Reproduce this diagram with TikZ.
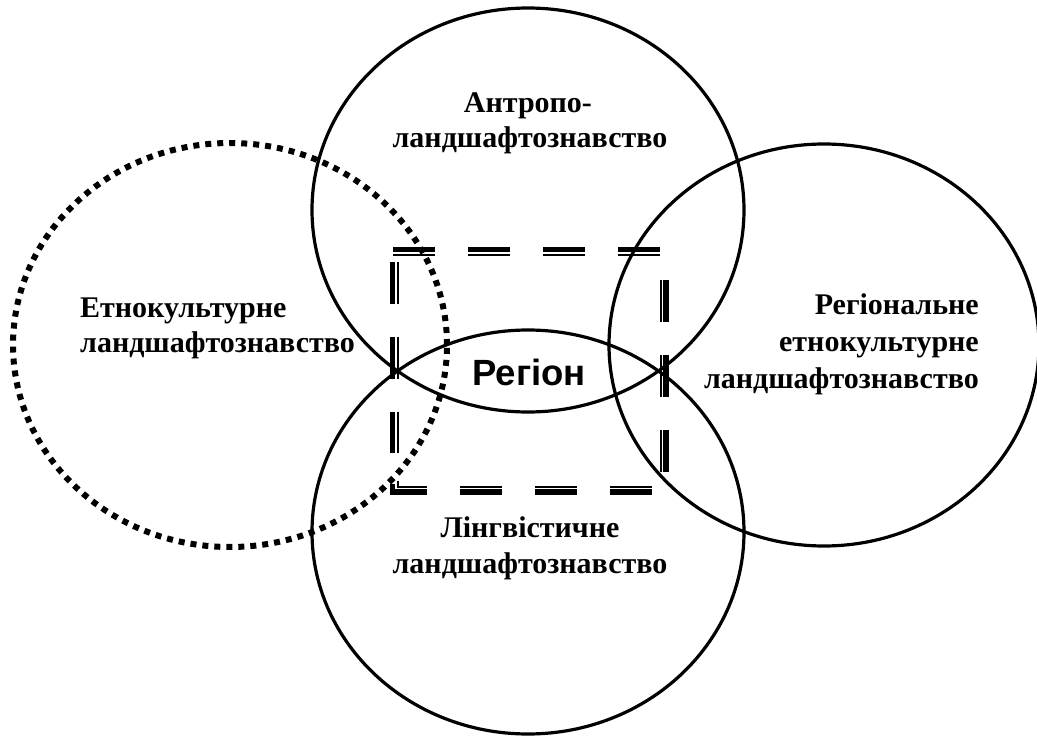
\documentclass[tikz,border=0pt]{standalone}
\usepackage{fontspec}
\setmainfont{Liberation Serif}
\newfontfamily\regfont{Liberation Sans}
\begin{document}
\begin{tikzpicture}[x=1pt,y=-1pt,
  ring/.style={line width=3.2pt},
  dotring/.style={line width=6pt, dash pattern=on 6pt off 6pt},
  lbl/.style={font=\fontsize{30}{34}\selectfont\bfseries, inner sep=0pt},
  thickdash/.style={line width=5.5pt, dash pattern=on 42pt off 33pt},
  thindash/.style={line width=2pt, dash pattern=on 42pt off 33pt}]
\useasboundingbox (0,0) rectangle (1037,736);
% circles
\draw[ring] (528,210) ellipse [x radius=216pt, y radius=202pt];
\draw[ring] (528,532) ellipse [x radius=216pt, y radius=202pt];
\draw[ring] (824,345) ellipse [x radius=215pt, y radius=201pt];
\draw[dotring] (230,345) ellipse [x radius=217pt, y radius=202pt];
% double dashed frame
\coordinate (tA) at (393,249.5); \coordinate (tB) at (661,249.5);
\coordinate (ta) at (393,254.5); \coordinate (tb) at (661,254.5);
\draw[thickdash] (tA) -- (tB);
\draw[thindash] (ta) -- (tb);
\coordinate (lA) at (392.5,262); \coordinate (lB) at (392.5,453);
\coordinate (la) at (397.5,262); \coordinate (lb) at (397.5,453);
\draw[thickdash] (lA) -- (lB);
\draw[thindash] (la) -- (lb);
\coordinate (rA) at (666,280); \coordinate (rB) at (666,473);
\coordinate (ra) at (661,280); \coordinate (rb) at (661,473);
\draw[thickdash] (rA) -- (rB);
\draw[thindash] (ra) -- (rb);
\coordinate (bA) at (392.5,484); \coordinate (bC) at (392.5,492); \coordinate (bB) at (654,492);
\coordinate (ba) at (397.5,481); \coordinate (bc) at (397.5,487); \coordinate (bb) at (654,487);
\draw[thickdash] (bA) -- (bC) -- (bB);
\draw[thindash, dash phase=6.5pt] (ba) -- (bc) -- (bb);
% labels
\node[lbl, anchor=base] (a1) at (528,112) {Антропо-};
\node[lbl, anchor=base] (a2) at (530,147) {ландшафтознавство};
\node[lbl, anchor=base west] (e1) at (80,317) {Етнокультурне};
\node[lbl, anchor=base west] (e2) at (80,352) {ландшафтознавство};
\node[lbl, anchor=base east] (r1) at (979,314) {Регіональне};
\node[lbl, anchor=base east] (r2) at (979,351) {етнокультурне};
\node[lbl, anchor=base east] (r3) at (979,388) {ландшафтознавство};
\node[lbl, anchor=base] (l1) at (530,537) {Лінгвістичне};
\node[lbl, anchor=base] (l2) at (530,573) {ландшафтознавство};
\node[font=\regfont\fontsize{36.5}{40}\selectfont\bfseries, inner sep=0pt, anchor=base] (reg) at (529,385) {Регіон};
\end{tikzpicture}
\end{document}
